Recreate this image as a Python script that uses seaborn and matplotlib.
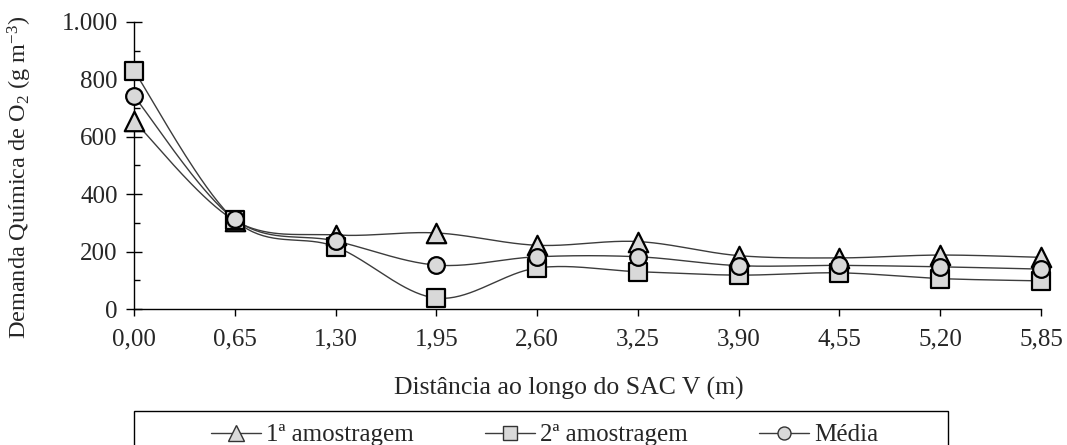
import numpy as np
import pandas as pd
import matplotlib
matplotlib.use("Agg")
import matplotlib.pyplot as plt
from matplotlib.lines import Line2D
from matplotlib.patches import Rectangle
from matplotlib.ticker import MultipleLocator, FixedLocator
import seaborn as sns

# Distance along the constructed wetland (m)
distancia = [0.00, 0.65, 1.30, 1.95, 2.60, 3.25, 3.90, 4.55, 5.20, 5.85]
distancia_rotulos = ["0,00", "0,65", "1,30", "1,95", "2,60", "3,25", "3,90", "4,55", "5,20", "5,85"]

# Chemical oxygen demand (g m-3)
amostragem_1 = [655, 308, 258, 265, 222, 235, 186, 178, 188, 180]
amostragem_2 = [830, 310, 217, 38, 143, 130, 118, 126, 106, 98]
media = [742, 312, 237, 153, 182, 182, 151, 152, 147, 139]

y_ticks = [0, 200, 400, 600, 800, 1000]
y_rotulos = ["0", "200", "400", "600", "800", "1.000"]

series = ["1ª amostragem", "2ª amostragem", "Média"]
marcadores = {"1ª amostragem": "^", "2ª amostragem": "s", "Média": "o"}
tamanhos = {"1ª amostragem": 14, "2ª amostragem": 13, "Média": 12}

sns.set_theme(style="white")
plt.rcParams["font.family"] = ["Liberation Serif", "DejaVu Serif"]
plt.rcParams["mathtext.fontset"] = "custom"
plt.rcParams["mathtext.rm"] = "Liberation Serif"
plt.rcParams["mathtext.it"] = "Liberation Serif:italic"

FS = 18
LINHA = "#3c3c3c"
PREENCHIMENTO = "#d9d9d9"

W, H = 1067, 445
AX_L, AX_R, AX_T, AX_B = 134, 1041, 22, 309


def suavizar(x, y, n=40):
    """Smooth curve through the points (cubic Bezier, Catmull-Rom tangents)."""
    p = np.column_stack([x, y]).astype(float)
    pts = []
    for i in range(len(p) - 1):
        p0 = p[i - 1] if i > 0 else p[i]
        p1, p2 = p[i], p[i + 1]
        p3 = p[i + 2] if i + 2 < len(p) else p[i + 1]
        c1 = p1 + (p2 - p0) / 6.0
        c2 = p2 - (p3 - p1) / 6.0
        t = np.linspace(0, 1, n)[:, None]
        seg = ((1 - t) ** 3) * p1 + 3 * ((1 - t) ** 2) * t * c1 + 3 * (1 - t) * t ** 2 * c2 + t ** 3 * p2
        pts.append(seg if i == 0 else seg[1:])
    s = np.vstack(pts)
    return s[:, 0], s[:, 1]


pontos = pd.DataFrame({
    "distancia": distancia * 3,
    "dqo": amostragem_1 + amostragem_2 + media,
    "serie": [series[0]] * 10 + [series[1]] * 10 + [series[2]] * 10,
})

fig = plt.figure(figsize=(W / 100, H / 100), dpi=100)
ax = fig.add_axes([AX_L / W, 1 - AX_B / H, (AX_R - AX_L) / W, (AX_B - AX_T) / H])

for nome in series:
    d = pontos[pontos["serie"] == nome]
    xs, ys = suavizar(d["distancia"].values, d["dqo"].values)
    curva = pd.DataFrame({"x": xs, "y": ys})
    sns.lineplot(data=curva, x="x", y="y", ax=ax, color=LINHA, linewidth=1.0,
                 estimator=None, sort=False, zorder=3)

for nome in series:
    d = pontos[pontos["serie"] == nome]
    sns.scatterplot(data=d, x="distancia", y="dqo", ax=ax, marker=marcadores[nome],
                    s=tamanhos[nome] ** 2, color=PREENCHIMENTO, edgecolor="black",
                    linewidth=1.6, zorder=5, clip_on=False, legend=False)

ax.set_xlim(0, 5.85)
ax.set_ylim(0, 1000)
ax.xaxis.set_major_locator(FixedLocator(distancia))
ax.set_xticklabels(distancia_rotulos)
ax.yaxis.set_major_locator(FixedLocator(y_ticks))
ax.set_yticklabels(y_rotulos)
ax.yaxis.set_minor_locator(MultipleLocator(100))

for side in ["top", "right"]:
    ax.spines[side].set_visible(False)
for side in ["left", "bottom"]:
    ax.spines[side].set_color("black")
    ax.spines[side].set_linewidth(1.0)

ax.tick_params(axis="y", which="major", direction="inout", length=11.5, width=1.0,
               color="black", labelsize=FS, pad=6, left=True)
ax.tick_params(axis="y", which="minor", direction="in", length=4, width=1.0,
               color="black", left=True)
ax.tick_params(axis="x", which="major", direction="out", length=5, width=1.0,
               color="black", labelsize=FS, pad=9, bottom=True)

ax.set_xlabel("Distância ao longo do SAC V (m)", fontsize=18.5)
ax.xaxis.set_label_coords((569 - AX_L) / (AX_R - AX_L), (AX_B - 377) / (AX_B - AX_T))
ax.set_ylabel("Demanda Química de O$_2$ (g m$^{-3}$)", fontsize=17.5)
ax.yaxis.set_label_coords((34 - AX_L) / (AX_R - AX_L), (AX_B - 177) / (AX_B - AX_T))
ax.grid(False)

# Legend in a box below the axes
caixa = Rectangle((134 / W, 1 - 460 / H), (948 - 134) / W, 49 / H,
                  transform=fig.transFigure, fill=False, edgecolor="black",
                  linewidth=1.0, clip_on=False)
fig.patches.append(caixa)

alcas = [Line2D([0], [0], color=LINHA, linewidth=1.0, marker=marcadores[n],
                markersize=tamanhos[n] * 0.78, markerfacecolor=PREENCHIMENTO,
                markeredgecolor="#333333", markeredgewidth=1.0)
         for n in series]
fig.legend(alcas, series, loc="center", bbox_to_anchor=(545 / W, 1 - 435 / H),
           ncol=3, frameon=False, fontsize=FS, handlelength=2.0, handletextpad=0.2,
           columnspacing=2.85, borderpad=0)

fig.savefig("out.png", dpi=100)
